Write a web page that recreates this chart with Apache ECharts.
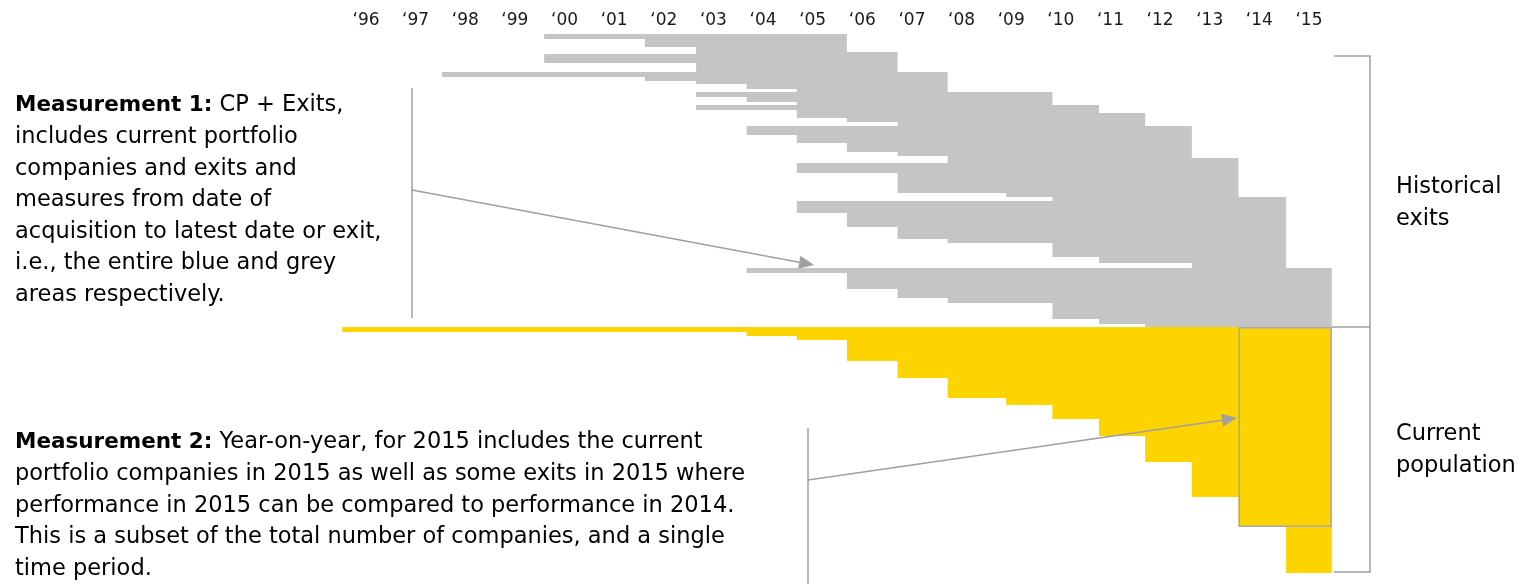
<!DOCTYPE html>
<html>
<head>
<meta charset="utf-8">
<script src="https://cdn.jsdelivr.net/npm/echarts@6/dist/echarts.min.js"></script>
<style>
  html, body { margin: 0; padding: 0; background: #fff; }
  #chart { width: 1520px; height: 584px; }
</style>
</head>
<body>
<div id="chart"></div>
<script>
// ---- Data ----
const tickLabels = ['\u201896','\u201897','\u201898','\u201899','\u201800','\u201801','\u201802','\u201803','\u201804','\u201805','\u201806','\u201807','\u201808','\u201809','\u201810','\u201811','\u201812','\u201813','\u201814','\u201815'];
const firstTickYear = 1996;

// Historical exits (grey): holding period of each group of companies, in years
// row i spans greyEdges[i] .. greyEdges[i+1] on the portfolio (row) scale
const greyEdges = [0,5,13,18,20,29,38,43,47,50,55,58,63,68,71,76,79,84,88,92,101,109,118,122,124,129,139,159,163,167,179,193,205,209,223,229,234,239,255,264,269,285,290,293];
const greyStart = [1999.59,2001.62,2002.65,2002.65,1999.59,2002.65,1997.53,2001.62,2002.65,2003.67,2004.68,2002.65,2003.67,2004.68,2002.65,2004.68,2004.68,2005.69,2006.71,2003.67,2004.68,2005.69,2006.71,2007.72,2007.72,2004.68,2006.71,2008.90,2009.83,2004.68,2005.69,2006.71,2007.72,2009.83,2010.77,2012.64,2003.67,2005.69,2006.71,2007.72,2009.83,2010.77,2011.70];
const greyEnd = [2005.69,2005.69,2005.69,2006.71,2006.71,2006.71,2007.72,2007.72,2007.72,2007.72,2007.72,2009.83,2009.83,2009.83,2010.77,2010.77,2011.70,2011.70,2011.70,2012.64,2012.64,2012.64,2012.64,2012.64,2013.58,2013.58,2013.58,2013.58,2014.54,2014.54,2014.54,2014.54,2014.54,2014.54,2014.54,2014.54,2015.46,2015.46,2015.46,2015.46,2015.46,2015.46,2015.46];

// Current population (yellow)
const yellowEdges = [293,298,302,306,327,344,364,371,385,402,428,463,493,539];
const yellowStart = [1995.52,2003.67,2004.68,2005.69,2006.71,2007.72,2008.90,2009.83,2010.77,2011.70,2012.64,2013.58,2014.54];
const latestDate = 2015.46;

// Year-on-year subset box (2015 vs 2014)
const yoyBox = [2013.58, 2015.46, 293, 493];

// ---- Build ----
const greyData = greyStart.map((s, i) => [s, greyEnd[i], greyEdges[i], greyEdges[i + 1]]);
const yellowData = yellowStart.map((s, i) => [s, latestDate, yellowEdges[i], yellowEdges[i + 1]]);

function rectRenderer(color) {
  return function (params, api) {
    const p0 = api.coord([api.value(0), api.value(2)]);
    const p1 = api.coord([api.value(1), api.value(3)]);
    return {
      type: 'rect',
      shape: { x: p0[0], y: p0[1], width: p1[0] - p0[0], height: p1[1] - p0[1] },
      style: { fill: color }
    };
  };
}

const chart = echarts.init(document.getElementById('chart'), null, { renderer: 'canvas' });

const txtColor = '#1a1a1a';
const lineColor = '#a0a0a0';
const FONT = '"DejaVu Sans", "Noto Sans", sans-serif';
const FS = 22.5;
const FSB = 21.5;
const LH = 31.6;

function arrow(x1, y1, x2, y2) {
  const ang = Math.atan2(y2 - y1, x2 - x1);
  const L = 15, W = 6.5;
  const bx = x2 - L * Math.cos(ang), by = y2 - L * Math.sin(ang);
  const nx = -Math.sin(ang), ny = Math.cos(ang);
  return [
    { type: 'line', z: 50, shape: { x1: x1, y1: y1, x2: bx, y2: by }, style: { stroke: lineColor, lineWidth: 1.5 }, silent: true },
    { type: 'polygon', z: 50, shape: { points: [[x2, y2], [bx + nx * W, by + ny * W], [bx - nx * W, by - ny * W]] }, style: { fill: lineColor }, silent: true }
  ];
}

const rich = {
  b: { fontFamily: FONT, fontSize: FSB, fontWeight: 'bold', color: txtColor, lineHeight: LH },
  n: { fontFamily: FONT, fontSize: FS, color: txtColor, lineHeight: LH }
};

const m1 = '{b|Measurement 1:}{n| CP + Exits,}\n{n|includes current portfolio}\n{n|companies and exits and}\n{n|measures from date of}\n{n|acquisition to latest date or exit,}\n{n|i.e., the entire blue and grey}\n{n|areas respectively.}';
const m2 = '{b|Measurement 2:}{n| Year-on-year, for 2015 includes the current}\n{n|portfolio companies in 2015 as well as some exits in 2015 where}\n{n|performance in 2015 can be compared to performance in 2014.}\n{n|This is a subset of the total number of companies, and a single}\n{n|time period.}';

const graphics = [
  // left annotation lines
  { type: 'line', z: 50, shape: { x1: 412, y1: 88, x2: 412, y2: 318 }, style: { stroke: lineColor, lineWidth: 1.5 }, silent: true },
  ...arrow(412, 190, 814, 265),
  { type: 'line', z: 50, shape: { x1: 808, y1: 428, x2: 808, y2: 584 }, style: { stroke: lineColor, lineWidth: 1.5 }, silent: true },
  ...arrow(808, 480, 1237, 418),
  // right brackets
  { type: 'polyline', z: 50, shape: { points: [[1334, 56], [1370, 56], [1370, 572], [1334, 572]] }, style: { stroke: lineColor, lineWidth: 1.5, fill: null }, silent: true },
  { type: 'line', z: 50, shape: { x1: 1332, y1: 327, x2: 1370, y2: 327 }, style: { stroke: lineColor, lineWidth: 1.5 }, silent: true },
  // texts
  { type: 'text', z: 50, left: 15, top: 94, style: { text: m1, rich: rich, font: FS + 'px ' + FONT } },
  { type: 'text', z: 50, left: 15, top: 431, style: { text: m2, rich: rich, font: FS + 'px ' + FONT } },
  { type: 'text', z: 50, left: 1396, top: 176, style: { text: '{n|Historical}\n{n|exits}', rich: rich } },
  { type: 'text', z: 50, left: 1396, top: 423, style: { text: '{n|Current}\n{n|population}', rich: rich } }
];

chart.setOption({
  animation: false,
  backgroundColor: '#fff',
  grid: { left: 316.37, width: 1042.23, top: 34, height: 550 },
  xAxis: {
    type: 'value', position: 'top', min: 1995, max: 2016, interval: 1,
    axisLine: { show: false }, axisTick: { show: false }, splitLine: { show: false },
    axisLabel: {
      margin: 5, fontSize: 17, color: txtColor, fontFamily: FONT,
      formatter: v => tickLabels[v - firstTickYear] || ''
    }
  },
  yAxis: { type: 'value', inverse: true, min: 0, max: 550, show: false, splitLine: { show: false } },
  series: [
    { type: 'custom', name: 'Historical exits', renderItem: rectRenderer('#C5C5C5'), data: greyData, encode: { x: [0, 1], y: [2, 3] }, silent: true },
    { type: 'custom', name: 'Current population', renderItem: rectRenderer('#FDD400'), data: yellowData, encode: { x: [0, 1], y: [2, 3] }, silent: true },
    {
      type: 'custom', name: 'Year-on-year', silent: true, z: 5,
      data: [yoyBox], encode: { x: [0, 1], y: [2, 3] },
      renderItem: function (params, api) {
        const p0 = api.coord([api.value(0), api.value(2)]);
        const p1 = api.coord([api.value(1), api.value(3)]);
        return { type: 'rect', shape: { x: p0[0] + 0.75, y: p0[1] + 0.75, width: p1[0] - p0[0] - 1.5, height: p1[1] - p0[1] - 1.5 }, style: { fill: null, stroke: '#a8a8a8', lineWidth: 1.5 } };
      }
    }
  ],
  graphic: graphics
});
</script>
</body>
</html>
